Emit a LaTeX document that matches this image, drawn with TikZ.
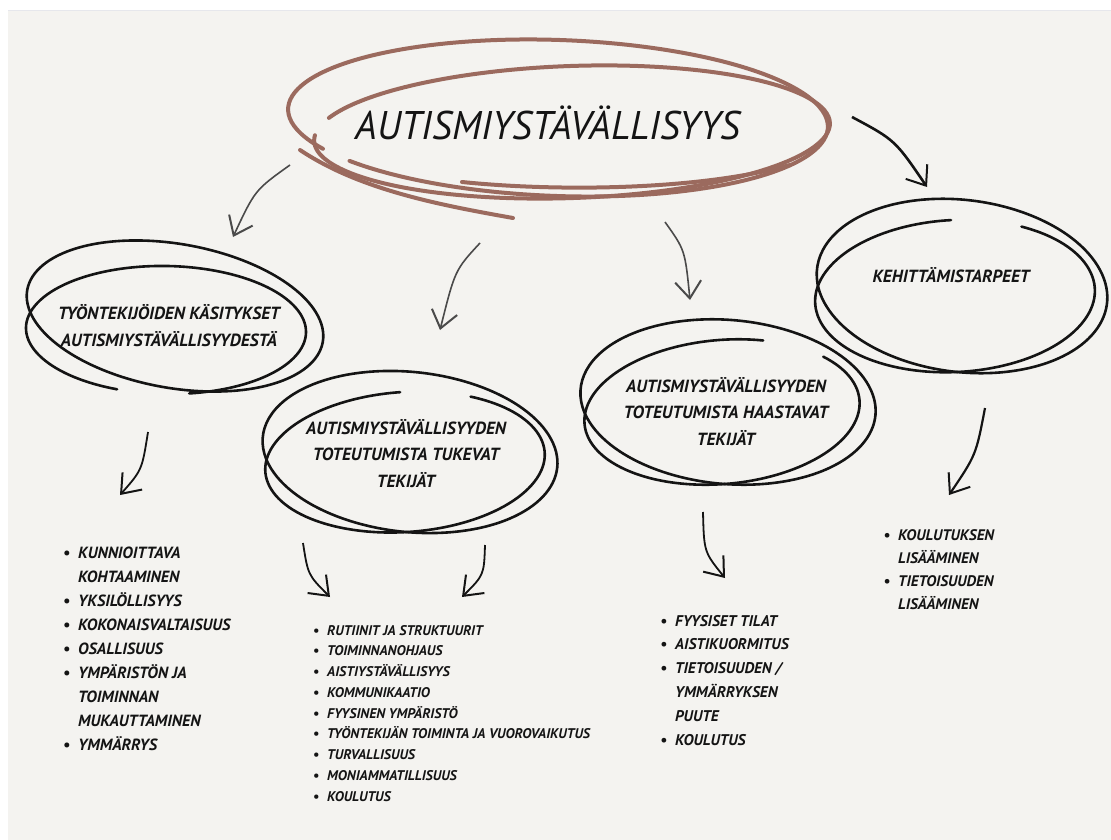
\documentclass[tikz,border=0pt]{standalone}
\usepackage{fontspec}
\setmainfont{PT Sans}
\usetikzlibrary{arrows.meta}
\definecolor{paper}{HTML}{F4F3F0}
\definecolor{rim}{HTML}{E6E7EC}
\definecolor{rose}{HTML}{9B6A5E}
\definecolor{ink}{HTML}{141414}
\definecolor{pencil}{HTML}{4A4A4A}

\tikzset{
  heading/.style={anchor=base,inner sep=0pt,text=ink,font=\bfseries\itshape\fontsize{17.6}{26.5}\selectfont,align=center},
  listing/.style={anchor=base west,inner sep=0pt,text=ink,align=left},
  loop/.style={draw=ink,line width=2.6pt,line cap=round},
  brownloop/.style={draw=rose,line width=4pt,line cap=round}
}
% one hand drawn ring: style, centre, rotation, start angle, sweep, rx, ry
\newcommand{\ring}[7]{%
  \begin{scope}[shift={#2},rotate=#3]
    \draw[#1] (#4:#6 and #7) arc[start angle=#4,delta angle=#5,x radius=#6,y radius=#7];
  \end{scope}}
\newcommand{\dotline}{\llap{\textbullet\hspace{8pt}}}

\begin{document}
\begin{tikzpicture}[x=1pt,y=-1pt,>={Straight Barb[length=17pt,width=26pt,line width=2pt]}]
  \useasboundingbox (0,0) rectangle (1111,840);
  \fill[white] (0,0) rectangle (1111,840);
  \fill[paper] (8,11) rectangle (1111,840);
  \draw[rim,line width=1pt] (8,11) -- (1111,11);

  % title
  \node[heading,font=\itshape\fontsize{40}{40}\selectfont] (ystav) at (548,140)
    {\scalebox{0.97}[1]{AUTISMIYSTÄVÄLLISYYS}};
  \ring{brownloop}{(558,118)}{-2}{150}{350}{270}{78}
  \ring{brownloop}{(572,132)}{2}{200}{345}{258}{66}
  \draw[brownloop] (462,182) .. controls (560,192) and (700,190) .. (790,165);
  \draw[brownloop] (300,150) .. controls (360,190) and (440,205) .. (513,218);

  % themes
  \node[heading] (kasitys) at (169,346) {TYÖNTEKIJÖIDEN KÄSITYKSET\\AUTISMIYSTÄVÄLLISYYDESTÄ};
  \node[heading] (tukevat) at (406,487) {AUTISMIYSTÄVÄLLISYYDEN\\TOTEUTUMISTA TUKEVAT\\TEKIJÄT};
  \node[heading] (haastavat) at (726,445) {AUTISMIYSTÄVÄLLISYYDEN\\TOTEUTUMISTA HAASTAVAT\\TEKIJÄT};
  \node[heading] (tarpeet) at (951,282) {KEHITTÄMISTARPEET};

  \ring{loop}{(175,316)}{-10}{160}{370}{150}{72}
  \ring{loop}{(166,330)}{-1}{110}{330}{140}{64}
  \ring{loop}{(410,452)}{-6}{250}{375}{148}{80}
  \ring{loop}{(405,462)}{4}{300}{330}{140}{70}
  \ring{loop}{(728,402)}{-5}{250}{370}{148}{82}
  \ring{loop}{(722,412)}{5}{320}{330}{138}{72}
  \ring{loop}{(962,286)}{-7}{245}{372}{146}{86}
  \ring{loop}{(955,296)}{3}{300}{330}{140}{76}

  % lists
  \node[listing,font=\bfseries\itshape\fontsize{16.2}{24}\selectfont] (kasitys list) at (78,750)
    {\dotline KUNNIOITTAVA\\KOHTAAMINEN\\\dotline YKSILÖLLISYYS\\\dotline KOKONAISVALTAISUUS\\
     \dotline OSALLISUUS\\\dotline YMPÄRISTÖN JA\\TOIMINNAN\\MUKAUTTAMINEN\\\dotline YMMÄRRYS};
  \node[listing,font=\bfseries\itshape\fontsize{14}{20.75}\selectfont] (tukevat list) at (327,801)
    {\dotline RUTIINIT JA STRUKTUURIT\\\dotline TOIMINNANOHJAUS\\\dotline AISTIYSTÄVÄLLISYYS\\
     \dotline KOMMUNIKAATIO\\\dotline FYYSINEN YMPÄRISTÖ\\\dotline TYÖNTEKIJÄN TOIMINTA JA VUOROVAIKUTUS\\
     \dotline TURVALLISUUS\\\dotline MONIAMMATILLISUUS\\\dotline KOULUTUS};
  \node[listing,font=\bfseries\itshape\fontsize{15.5}{23.8}\selectfont] (haastavat list) at (675,745)
    {\dotline FYYSISET TILAT\\\dotline AISTIKUORMITUS\\\dotline TIETOISUUDEN /\\YMMÄRRYKSEN\\PUUTE\\\dotline KOULUTUS};
  \node[listing,font=\bfseries\itshape\fontsize{15.3}{23}\selectfont] (tarpeet list) at (898,609)
    {\dotline KOULUTUKSEN\\LISÄÄMINEN\\\dotline TIETOISUUDEN\\LISÄÄMINEN};

  % arrows
  \coordinate (a1) at (290,165); \coordinate (b1) at (233,237);
  \coordinate (a2) at (480,243); \coordinate (b2) at (440,330);
  \coordinate (a3) at (665,222); \coordinate (b3) at (690,300);
  \coordinate (a4) at (852,117); \coordinate (b4) at (927,187);
  \coordinate (a5) at (148,432); \coordinate (b5) at (120,495);
  \coordinate (a6) at (303,543); \coordinate (b6) at (330,597);
  \coordinate (a7) at (485,545); \coordinate (b7) at (462,597);
  \coordinate (a8) at (703,512); \coordinate (b8) at (725,578);
  \coordinate (a9) at (985,408); \coordinate (b9) at (949,495);
  \draw[->,pencil,line width=1.6pt] (a1) .. controls (255,190) .. (b1);
  \draw[->,pencil,line width=1.6pt] (a2) .. controls (455,270) .. (b2);
  \draw[->,pencil,line width=1.6pt] (a3) .. controls (685,250) .. (b3);
  \draw[->,ink,line width=2.6pt] (a4) .. controls (895,140) .. (b4);
  \draw[->,ink,line width=1.8pt] (a5) .. controls (142,470) .. (b5);
  \draw[->,ink,line width=1.8pt] (a6) .. controls (308,575) .. (b6);
  \draw[->,ink,line width=1.8pt] (a7) .. controls (484,575) .. (b7);
  \draw[->,ink,line width=1.8pt] (a8) .. controls (704,552) .. (b8);
  \draw[->,ink,line width=2.2pt] (a9) .. controls (976,455) .. (b9);
\end{tikzpicture}
\end{document}
